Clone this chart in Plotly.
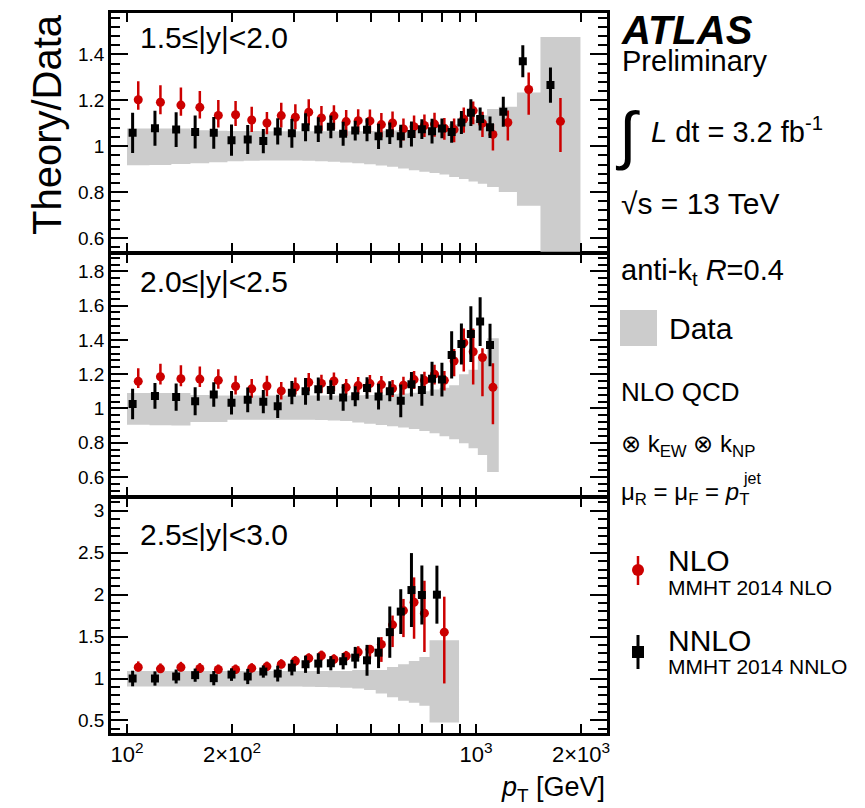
import math
import plotly.graph_objects as go

# ---------------- data ----------------
# pT bin edges [GeV]
edges_y15 = [100, 116, 134, 152, 172, 194, 216, 240, 264, 290, 318, 346, 376, 408, 442,
             478, 516, 556, 598, 642, 688, 736, 786, 838, 894, 952, 1012, 1076, 1162,
             1310, 1530, 1992]
edges_y20 = [100, 116, 134, 152, 172, 194, 216, 240, 264, 290, 318, 346, 376, 408, 442,
             478, 516, 556, 598, 642, 688, 736, 786, 838, 894, 952, 1012, 1076, 1162]
edges_y25 = [100, 116, 134, 152, 172, 194, 216, 240, 264, 290, 318, 346, 376, 408, 442,
             478, 516, 556, 598, 642, 688, 736, 894]

# Data relative uncertainty band (upper / lower edge of Data/Data)
band_up_y15 = [1.077, 1.077, 1.077, 1.069, 1.067, 1.066, 1.066, 1.065, 1.065, 1.065, 1.065,
               1.065, 1.065, 1.065, 1.065, 1.066, 1.067, 1.068, 1.070, 1.072, 1.075, 1.080,
               1.088, 1.096, 1.105, 1.115, 1.135, 1.162, 1.172, 1.234, 1.475]
band_lo_y15 = [0.917, 0.918, 0.922, 0.926, 0.930, 0.934, 0.936, 0.938, 0.938, 0.937, 0.936,
               0.934, 0.932, 0.929, 0.926, 0.921, 0.916, 0.910, 0.903, 0.895, 0.889, 0.883,
               0.876, 0.866, 0.857, 0.846, 0.836, 0.822, 0.800, 0.740, 0.450]
band_up_y20 = [1.090, 1.090, 1.090, 1.078, 1.076, 1.075, 1.075, 1.075, 1.075, 1.075, 1.075,
               1.075, 1.075, 1.076, 1.077, 1.078, 1.080, 1.083, 1.087, 1.092, 1.100, 1.110,
               1.120, 1.135, 1.200, 1.225, 1.283, 1.410]
band_lo_y20 = [0.905, 0.902, 0.900, 0.921, 0.921, 0.933, 0.933, 0.934, 0.934, 0.934, 0.933,
               0.932, 0.930, 0.927, 0.917, 0.910, 0.903, 0.896, 0.888, 0.879, 0.868, 0.855,
               0.838, 0.820, 0.796, 0.767, 0.728, 0.628]
band_up_y25 = [1.090, 1.090, 1.090, 1.090, 1.090, 1.090, 1.090, 1.090, 1.090, 1.090, 1.090,
               1.090, 1.090, 1.090, 1.100, 1.100, 1.100, 1.138, 1.170, 1.209, 1.257, 1.455]
band_lo_y25 = [0.905, 0.905, 0.905, 0.905, 0.905, 0.905, 0.905, 0.905, 0.905, 0.905, 0.903,
               0.900, 0.895, 0.890, 0.881, 0.862, 0.822, 0.775, 0.735, 0.711, 0.676, 0.474]

# NLO (MMHT 2014 NLO) theory / data
nlo_y15 = [1.202, 1.191, 1.179, 1.169, 1.134, 1.137, 1.114, 1.101, 1.133, 1.126, 1.148,
           1.123, 1.132, 1.107, 1.111, 1.110, 1.094, 1.101, 1.075, 1.085, 1.090, 1.096,
           1.078, 1.072, 1.118, 1.155, 1.100, 1.051, 1.103, 1.247, 1.108]
nlo_up_y15 = [0.081, 0.074, 0.076, 0.071, 0.067, 0.060, 0.058, 0.048, 0.056, 0.056, 0.056,
              0.052, 0.046, 0.051, 0.050, 0.050, 0.050, 0.050, 0.045, 0.048, 0.048, 0.050,
              0.045, 0.048, 0.050, 0.040, 0.050, 0.046, 0.052, 0.074, 0.102]
nlo_dn_y15 = [0.043, 0.052, 0.047, 0.049, 0.053, 0.049, 0.052, 0.049, 0.052, 0.052, 0.057,
              0.056, 0.058, 0.062, 0.050, 0.050, 0.055, 0.050, 0.050, 0.050, 0.050, 0.055,
              0.050, 0.055, 0.060, 0.060, 0.060, 0.070, 0.078, 0.110, 0.134]
nlo_y20 = [1.158, 1.185, 1.173, 1.171, 1.164, 1.129, 1.114, 1.131, 1.102, 1.125, 1.152,
           1.146, 1.160, 1.123, 1.133, 1.145, 1.139, 1.116, 1.135, 1.168, 1.164, 1.200,
           1.164, 1.277, 1.383, 1.331, 1.297, 1.123]
nlo_up_y20 = [0.077, 0.075, 0.079, 0.074, 0.065, 0.062, 0.057, 0.060, 0.052, 0.056, 0.054,
              0.051, 0.050, 0.048, 0.050, 0.050, 0.050, 0.050, 0.050, 0.050, 0.050, 0.055,
              0.055, 0.070, 0.083, 0.135, 0.054, 0.141]
nlo_dn_y20 = [0.039, 0.046, 0.044, 0.046, 0.050, 0.048, 0.052, 0.060, 0.050, 0.044, 0.052,
              0.055, 0.060, 0.042, 0.050, 0.050, 0.050, 0.050, 0.055, 0.055, 0.055, 0.060,
              0.060, 0.090, 0.167, 0.192, 0.226, 0.215]
nlo_y25 = [1.134, 1.115, 1.134, 1.119, 1.107, 1.107, 1.123, 1.142, 1.170, 1.209, 1.241,
           1.273, 1.229, 1.269, 1.315, 1.348, 1.407, 1.640, 1.810, 1.909, 1.779, 1.553]
nlo_up_y25 = [0.070, 0.065, 0.065, 0.065, 0.060, 0.060, 0.060, 0.060, 0.060, 0.060, 0.060,
              0.060, 0.060, 0.060, 0.070, 0.047, 0.087, 0.111, 0.139, 0.297, 0.387, 0.423]
nlo_dn_y25 = [0.050, 0.050, 0.050, 0.050, 0.050, 0.050, 0.050, 0.050, 0.050, 0.055, 0.055,
              0.060, 0.060, 0.060, 0.070, 0.111, 0.209, 0.265, 0.316, 0.435, 0.463, 0.612]

# NNLO (MMHT 2014 NNLO) theory / data
nnlo_y15 = [1.058, 1.078, 1.072, 1.062, 1.058, 1.026, 1.029, 1.022, 1.064, 1.056, 1.082,
            1.072, 1.084, 1.054, 1.068, 1.071, 1.043, 1.056, 1.043, 1.053, 1.074, 1.065,
            1.077, 1.062, 1.103, 1.146, 1.118, 1.082, 1.150, 1.370, 1.266]
nnlo_err_y15 = [0.088, 0.076, 0.076, 0.072, 0.069, 0.068, 0.063, 0.053, 0.057, 0.063, 0.061,
                0.054, 0.050, 0.052, 0.043, 0.050, 0.055, 0.047, 0.050, 0.054, 0.043, 0.054,
                0.043, 0.047, 0.050, 0.058, 0.050, 0.047, 0.065, 0.070, 0.077]
nnlo_y20 = [1.025, 1.073, 1.066, 1.042, 1.081, 1.033, 1.050, 1.039, 1.012, 1.092, 1.100,
            1.112, 1.108, 1.064, 1.071, 1.119, 1.069, 1.100, 1.044, 1.141, 1.108, 1.173,
            1.168, 1.312, 1.376, 1.434, 1.507, 1.370]
nnlo_err_y20 = [0.089, 0.075, 0.079, 0.082, 0.071, 0.069, 0.072, 0.068, 0.068, 0.068, 0.078,
                0.068, 0.057, 0.077, 0.058, 0.063, 0.075, 0.058, 0.096, 0.072, 0.092, 0.099,
                0.099, 0.138, 0.120, 0.163, 0.142, 0.124]
nnlo_y25 = [1.000, 1.000, 1.024, 1.040, 1.004, 1.047, 1.024, 1.083, 1.059, 1.130, 1.170,
            1.178, 1.182, 1.206, 1.249, 1.217, 1.308, 1.553, 1.798, 2.055, 1.996, 2.000]
nnlo_err_y25 = [0.093, 0.085, 0.083, 0.079, 0.085, 0.075, 0.091, 0.073, 0.095, 0.093, 0.103,
                0.123, 0.085, 0.097, 0.128, 0.184, 0.184, 0.306, 0.267, 0.441, 0.352, 0.346]

panel_labels = ["1.5≤|y|<2.0", "2.0≤|y|<2.5", "2.5≤|y|<3.0"]
xtick_vals = [100, 200, 300, 400, 500, 600, 700, 800, 900, 1000, 2000]
xtick_text = ["10<sup>2</sup>", "2×10<sup>2</sup>", "", "", "", "", "", "", "",
              "10<sup>3</sup>", "2×10<sup>3</sup>"]

# ---------------- styling ----------------
RED = "#cc0000"
GREY = "#cccccc"
FONT = "Liberation Sans, Arial, Helvetica, sans-serif"
LW = 2.5

# the page body adds an 8 px margin; all page positions below are in page pixels
OFF = 8
W, H = 865 - OFF, 808 - OFF
ML = 111 - OFF
MT = 13 - OFF
MR = 865 - 607
MB = 808 - 733
PW = W - ML - MR
PH = H - MT - MB


def px(x):
    return (x - OFF - ML) / PW


def py(y):
    return (H - MB - (y - OFF)) / PH


fig = go.Figure()


def centers(edges):
    return [math.sqrt(a * b) for a, b in zip(edges[:-1], edges[1:])]


def left_pos(edges):
    return [a ** 0.75 * b ** 0.25 for a, b in zip(edges[:-1], edges[1:])]


def add_panel(edges, lo, up, nlo, nup, ndn, nnlo, nerr, xa, ya):
    fig.add_trace(go.Scatter(x=edges, y=lo + [lo[-1]], mode="lines", line=dict(width=0, shape="hv"),
                             xaxis=xa, yaxis=ya, showlegend=False, hoverinfo="skip"))
    fig.add_trace(go.Scatter(x=edges, y=up + [up[-1]], mode="lines", line=dict(width=0, shape="hv"),
                             fill="tonexty", fillcolor=GREY, xaxis=xa, yaxis=ya,
                             showlegend=False, hoverinfo="skip"))
    fig.add_trace(go.Scatter(x=centers(edges), y=nlo, mode="markers",
                             marker=dict(symbol="circle", size=9, color=RED),
                             error_y=dict(type="data", symmetric=False, array=nup, arrayminus=ndn,
                                          width=0, thickness=2.5, color=RED),
                             xaxis=xa, yaxis=ya, showlegend=False))
    fig.add_trace(go.Scatter(x=left_pos(edges), y=nnlo, mode="markers",
                             marker=dict(symbol="square", size=8, color="black"),
                             error_y=dict(type="data", array=nerr, width=0, thickness=3, color="black"),
                             xaxis=xa, yaxis=ya, showlegend=False))


add_panel(edges_y15, band_lo_y15, band_up_y15, nlo_y15, nlo_up_y15, nlo_dn_y15,
          nnlo_y15, nnlo_err_y15, "x3", "y3")
add_panel(edges_y20, band_lo_y20, band_up_y20, nlo_y20, nlo_up_y20, nlo_dn_y20,
          nnlo_y20, nnlo_err_y20, "x2", "y2")
add_panel(edges_y25, band_lo_y25, band_up_y25, nlo_y25, nlo_up_y25, nlo_dn_y25,
          nnlo_y25, nnlo_err_y25, "x", "y")

xr = [2 - 16 / 349, 2 + 480 / 349]


def xax(anchor, labels):
    return dict(type="log", range=xr, anchor=anchor, domain=[0, 1], automargin=False,
                tickvals=xtick_vals, ticktext=xtick_text, showticklabels=labels,
                ticks="inside", ticklen=9, tickwidth=2, tickcolor="black",
                showline=True, linewidth=LW, linecolor="black", mirror="ticks",
                showgrid=False, zeroline=False,
                tickfont=dict(family=FONT, size=22, color="black"))


def yax(anchor, domain, rng, dtick, minor):
    return dict(anchor=anchor, domain=domain, range=rng, tick0=0, dtick=dtick, automargin=False,
                ticks="inside", ticklen=17, tickwidth=2, tickcolor="black",
                minor=dict(tick0=0, dtick=minor, ticks="inside", ticklen=9, tickwidth=2,
                           tickcolor="black", showgrid=False),
                showline=True, linewidth=LW, linecolor="black", mirror="ticks",
                showgrid=False, zeroline=False,
                tickfont=dict(family=FONT, size=19, color="black"))


g = LW / PH / 2
b_top = py(253)
b_bot = py(497)

fig.update_layout(
    width=W, height=H,
    margin=dict(l=ML, r=MR, t=MT, b=MB, pad=0, autoexpand=False),
    plot_bgcolor="white", paper_bgcolor="white",
    font=dict(family=FONT, color="black"),
    xaxis=xax("y", True),
    xaxis2=xax("y2", False),
    xaxis3=xax("y3", False),
    yaxis=yax("x", [0, b_bot - g], [0.35, 3.15], 0.5, 0.1),
    yaxis2=yax("x2", [b_bot + g, b_top - g], [0.49, 1.90], 0.2, 0.04),
    yaxis3=yax("x3", [b_top + g, 1], [0.54, 1.58], 0.2, 0.04),
    showlegend=False,
)

anns = []


def ann(text, x, y, size, xanchor="left", yanchor="middle", **kw):
    anns.append(dict(text=text, x=px(x), y=py(y), xref="paper", yref="paper",
                     xanchor=xanchor, yanchor=yanchor, showarrow=False,
                     font=dict(family=FONT, size=size, color="black"), **kw))


ann(panel_labels[0], 138, 38, 30)
ann(panel_labels[1], 138, 281, 30)
ann(panel_labels[2], 138, 534, 30)
ann("Theory/Data", 47, 125, 40, xanchor="center", textangle=-90)
ann("<b><i>ATLAS</i></b>", 620, 30, 40, borderpad=0)
ann("Preliminary", 621, 61, 29, borderpad=0)
ann("∫", 613, 135, 64)
ann("<i>L</i> dt = 3.2 fb<sup>-1</sup>", 649, 130, 29)
ann("√s = 13 TeV", 619, 204, 30)
ann("anti-k<sub>t</sub> <i>R</i>=0.4", 619, 272, 29)
ann("Data", 667, 328, 30)
ann("NLO QCD", 619, 392, 26)
ann("⊗ k<sub>EW</sub> ⊗ k<sub>NP</sub>", 619, 445, 24)
ann("μ<sub>R</sub> = μ<sub>F</sub> = <i>p</i><sub>T</sub>", 619, 493, 24)
ann("jet", 741, 479, 16)
ann("NLO", 666, 560, 30)
ann("MMHT 2014 NLO", 666, 587, 21)
ann("NNLO", 666, 640, 30)
ann("MMHT 2014 NNLO", 666, 666, 21)
ann("<i>p</i><sub>T</sub> [GeV]", 607, 789, 27, xanchor="right")

shapes = [
    dict(type="rect", xref="paper", yref="paper", x0=px(620), x1=px(657), y0=py(346), y1=py(310),
         fillcolor=GREY, line=dict(width=0)),
    dict(type="line", xref="paper", yref="paper", x0=px(638), x1=px(638), y0=py(585), y1=py(556),
         line=dict(color=RED, width=2.5)),
    dict(type="circle", xref="paper", yref="paper", x0=px(632), x1=px(644), y0=py(576), y1=py(564),
         fillcolor=RED, line=dict(color=RED, width=0)),
    dict(type="line", xref="paper", yref="paper", x0=px(638), x1=px(638), y0=py(669), y1=py(635),
         line=dict(color="black", width=3)),
    dict(type="rect", xref="paper", yref="paper", x0=px(632), x1=px(644), y0=py(658), y1=py(646),
         fillcolor="black", line=dict(width=0)),
]

fig.update_layout(annotations=anns, shapes=shapes)
fig.write_html("out.html")
